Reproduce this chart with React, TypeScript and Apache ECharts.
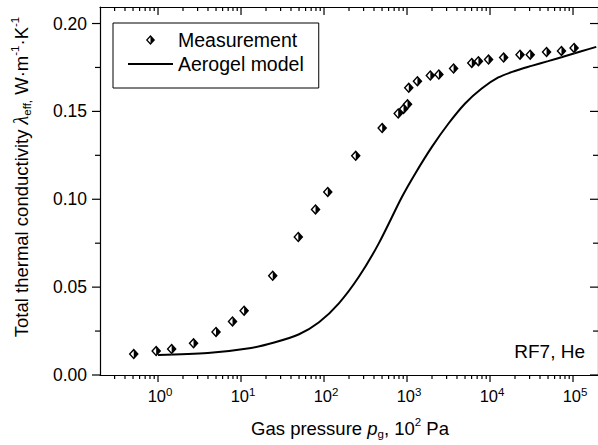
import { useEffect, useRef } from 'react';
import * as echarts from 'echarts';

// Measured data: gas pressure (10^2 Pa) and total thermal conductivity (W/(m·K))
const measPressure = [0.51, 0.95, 1.46, 2.68, 5.0, 7.9, 10.9, 24.1, 49, 79, 111, 241, 502, 783, 908, 1014, 1050, 1335, 1910, 2420, 3640, 6030, 7250, 9600, 14600, 23000, 30500, 48000, 72600, 103000];
const measLambda = [0.0119, 0.0136, 0.0148, 0.018, 0.0245, 0.0305, 0.0366, 0.0565, 0.0785, 0.0942, 0.1042, 0.1247, 0.1405, 0.1488, 0.1514, 0.154, 0.1634, 0.1672, 0.1704, 0.171, 0.1744, 0.1776, 0.1786, 0.1795, 0.1806, 0.1823, 0.1823, 0.1838, 0.1844, 0.1861];

// Aerogel model curve
const modelPressure = [1, 3.98, 12.6, 25.1, 50.1, 87.1, 151, 263, 457, 871, 1259, 1995, 3162, 5012, 7943, 12589, 19953, 31623, 50119, 79433, 125893, 190546];
const modelLambda = [0.0114, 0.0125, 0.0152, 0.0185, 0.0232, 0.03, 0.0408, 0.0559, 0.0749, 0.1014, 0.1147, 0.1298, 0.1431, 0.1545, 0.163, 0.1693, 0.173, 0.1759, 0.1786, 0.1814, 0.1842, 0.1867];

// Axis ticks
const xMajorExponents = [0, 1, 2, 3, 4, 5];
const xMinorMultipliers = [2, 3, 4, 5, 6, 7, 8, 9];
const yMajorTicks = [0, 0.05, 0.1, 0.15, 0.2];
const yMinorTicks = [0.025, 0.075, 0.125, 0.175];

const X_MIN = 0.2;
const X_MAX = 2e5;
const Y_MIN = 0;
const Y_MAX = 0.2094;

const FONT = "'Liberation Sans', Arial, Helvetica, sans-serif";
const SERIF = "'Liberation Serif', 'Times New Roman', serif";

const DIAMOND = 'path://M10 0L20 11L10 22L0 11Z M10 4.16L3.78 11L10 17.84L16.22 11Z M10 0L20 11L10 22Z';
const LINE_ICON = 'path://M0 0H45V2H0Z';

export default function App() {
  const ref = useRef<HTMLDivElement>(null);

  useEffect(() => {
    if (!ref.current) return;
    const chart = echarts.init(ref.current, null, { renderer: 'svg' });

    const LX_MIN = Math.log10(X_MIN);
    const LX_MAX = Math.log10(X_MAX);

    const measData = measPressure.map((p, i) => [Math.log10(p), measLambda[i]]);
    const modelData = modelPressure.map((p, i) => [Math.log10(p), modelLambda[i]]);

    const xTickData: number[][] = [];
    for (let e = -1; e <= 5; e++) {
      if (xMajorExponents.includes(e)) xTickData.push([e, 0, e]);
      for (const m of xMinorMultipliers) {
        const v = m * Math.pow(10, e);
        if (v > X_MIN * 1.0001 && v < X_MAX * 0.9999) xTickData.push([Math.log10(v), 1, e]);
      }
    }
    const yTickData: number[][] = [
      ...yMajorTicks.map((v) => [0, v, 0]),
      ...yMinorTicks.map((v) => [0, v, 1]),
    ];

    const lineStyle = { stroke: '#000', lineWidth: 1.2 };

    const option: any = {
      animation: false,
      backgroundColor: '#fff',
      grid: { left: 100, right: -2, top: 7, bottom: 70 },
      xAxis: [
        {
          type: 'value', min: LX_MIN, max: LX_MAX,
          axisLine: { show: true, onZero: false, lineStyle: { color: '#000', width: 1.2 } },
          axisTick: { show: false }, axisLabel: { show: false }, splitLine: { show: false },
        },
        {
          type: 'value', position: 'top', min: LX_MIN, max: LX_MAX,
          axisLine: { show: true, onZero: false, lineStyle: { color: '#000', width: 1.2 } },
          axisTick: { show: false }, axisLabel: { show: false }, splitLine: { show: false },
        },
      ],
      yAxis: [
        {
          type: 'value', min: Y_MIN, max: Y_MAX, interval: 0.05,
          axisLine: { show: true, onZero: false, lineStyle: { color: '#000', width: 1.2 } },
          axisTick: { show: false }, splitLine: { show: false },
          axisLabel: {
            color: '#000', fontSize: 17.5, fontFamily: FONT, margin: 13,
            formatter: (v: number) => (Math.abs(v * 20 - Math.round(v * 20)) < 1e-6 ? v.toFixed(2) : ''),
          },
        },
        {
          type: 'value', position: 'right', min: Y_MIN, max: Y_MAX, interval: 0.05,
          axisLine: { show: true, onZero: false, lineStyle: { color: '#000', width: 1.2 } },
          axisTick: { show: false }, axisLabel: { show: false }, splitLine: { show: false },
        },
      ],
      legend: {
        data: ['Measurement', { name: 'Aerogel model', icon: LINE_ICON }],
        orient: 'vertical', left: 113, top: 23,
        itemWidth: 45, itemHeight: 10, itemGap: 4,
        padding: [7, 15, 14, 15],
        borderColor: '#000', borderWidth: 1, backgroundColor: '#fff',
        selectedMode: false,
        textStyle: { fontSize: 19.5, color: '#000', fontFamily: FONT },
      },
      graphic: [
        {
          type: 'text', x: 21, y: 177, rotation: Math.PI / 2,
          style: {
            text: '{n|Total thermal conductivity }{i|λ}{sub|eff,}{n| W·m}{sup|-1}{n|·K}{sup|-1}',
            align: 'center', verticalAlign: 'middle', fill: '#000',
            fontFamily: FONT, fontSize: 18.5,
            rich: {
              n: { fontFamily: FONT, fontSize: 18.5, lineHeight: 24, verticalAlign: 'middle', fill: '#000' },
              i: { fontFamily: SERIF, fontStyle: 'italic', fontSize: 20, lineHeight: 24, verticalAlign: 'middle', fill: '#000' },
              sub: { fontFamily: FONT, fontSize: 11.5, lineHeight: 10, verticalAlign: 'bottom', fill: '#000' },
              sup: { fontFamily: FONT, fontSize: 11.5, lineHeight: 12, verticalAlign: 'top', fill: '#000' },
            },
          },
        },
        {
          type: 'text', x: 350, y: 428,
          style: {
            text: '{n|Gas pressure }{i|p}{sub|g}{n|, 10}{sup|2}{n| Pa}',
            align: 'center', verticalAlign: 'middle', fill: '#000',
            fontFamily: FONT, fontSize: 18.5,
            rich: {
              n: { fontFamily: FONT, fontSize: 18.5, lineHeight: 24, verticalAlign: 'middle', fill: '#000' },
              i: { fontFamily: FONT, fontStyle: 'italic', fontSize: 18.5, lineHeight: 24, verticalAlign: 'middle', fill: '#000' },
              sub: { fontFamily: FONT, fontSize: 11.5, lineHeight: 10, verticalAlign: 'bottom', fill: '#000' },
              sup: { fontFamily: FONT, fontSize: 11.5, lineHeight: 12, verticalAlign: 'top', fill: '#000' },
            },
          },
        },
        {
          type: 'text', x: 585, y: 351,
          style: { text: 'RF7, He', align: 'right', verticalAlign: 'middle', fill: '#000', fontFamily: FONT, fontSize: 19 },
        },
      ],
      series: [
        {
          name: 'Aerogel model', type: 'line', data: modelData, smooth: 0.3,
          symbol: 'none', showSymbol: false, z: 2,
          lineStyle: { color: '#000', width: 2 }, itemStyle: { color: '#000' },
        },
        {
          type: 'scatter', data: measData, symbol: 'diamond', symbolSize: [10, 11],
          itemStyle: { color: '#fff', opacity: 1 }, silent: true, z: 3,
        },
        {
          name: 'Measurement', type: 'scatter', data: measData, symbol: DIAMOND, symbolSize: [10, 11],
          itemStyle: { color: '#000', opacity: 1 }, z: 4,
        },
        {
          type: 'custom', data: xTickData, encode: { x: 0, y: 1 }, clip: false, silent: true, z: 5,
          renderItem: (_p: any, api: any) => {
            const lx = api.value(0);
            const major = api.value(1) === 0;
            const e = api.value(2);
            const b = api.coord([lx, Y_MIN]);
            const t = api.coord([lx, Y_MAX]);
            const children: any[] = [
              { type: 'line', shape: { x1: b[0], y1: b[1], x2: b[0], y2: b[1] + (major ? 7 : 4) }, style: lineStyle },
              { type: 'line', shape: { x1: t[0], y1: t[1], x2: t[0], y2: t[1] + (major ? 8 : 4) }, style: lineStyle },
            ];
            if (major) {
              children.push({
                type: 'text', x: b[0] + 2, y: b[1] + 21,
                style: {
                  text: `{b|10}{s|${e}}`, align: 'center', verticalAlign: 'middle', fill: '#000',
                  fontFamily: FONT, fontSize: 16.5,
                  rich: {
                    b: { fontFamily: FONT, fontSize: 16.5, lineHeight: 20, verticalAlign: 'middle', fill: '#000' },
                    s: { fontFamily: FONT, fontSize: 11.5, lineHeight: 12, verticalAlign: 'top', fill: '#000' },
                  },
                },
              });
            }
            return { type: 'group', children };
          },
        },
        {
          type: 'custom', data: yTickData, encode: { x: 0, y: 1 }, clip: false, silent: true, z: 5,
          renderItem: (_p: any, api: any) => {
            const yv = api.value(1);
            const major = api.value(2) === 0;
            const l = api.coord([LX_MIN, yv]);
            const r = api.coord([LX_MAX, yv]);
            return {
              type: 'group',
              children: [
                { type: 'line', shape: { x1: l[0] - (major ? 8 : 5), y1: l[1], x2: l[0], y2: l[1] }, style: lineStyle },
                { type: 'line', shape: { x1: r[0] - (major ? 8 : 5), y1: r[1], x2: r[0], y2: r[1] }, style: lineStyle },
              ],
            };
          },
        },
      ],
    };

    chart.setOption(option);
    return () => chart.dispose();
  }, []);

  return <div ref={ref} style={{ position: 'absolute', left: 0, top: 0, width: 598, height: 445 }} />;
}
